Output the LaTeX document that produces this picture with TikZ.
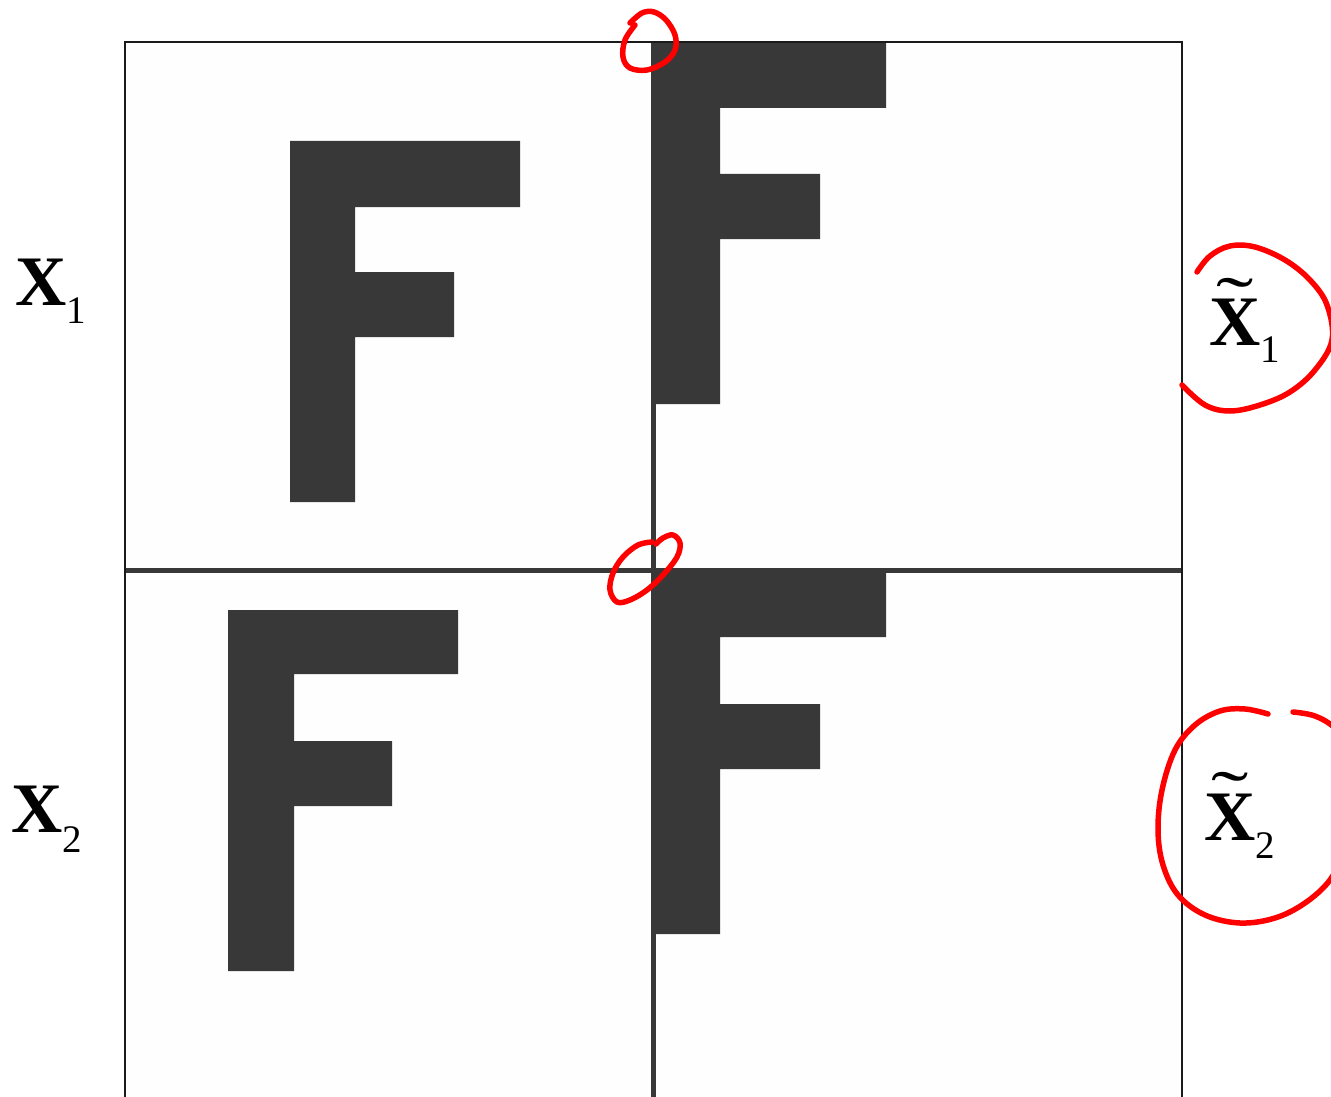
\documentclass[tikz,border=0pt]{standalone}
\usepackage{fontspec}
\usepackage{graphicx}
\setmainfont{Liberation Serif}
\definecolor{inkdark}{HTML}{383838}
\definecolor{framecol}{HTML}{1A1A1A}
\definecolor{penred}{HTML}{FF0000}
\newcommand\bigx{\fontsize{71}{71}\selectfont\bfseries X}
\newcommand\subnum[2]{\raisebox{-#1pt}{\fontsize{39}{39}\selectfont\mdseries #2}}
\newcommand\widetildechar{\scalebox{1.6}[1]{\fontsize{70}{70}\selectfont\mdseries\char"02DC}}
\newcommand\tildex[1]{{\fontsize{71}{71}\selectfont\bfseries\rlap{\hbox to \fontcharwd\font`X{\hss\raisebox{#1pt}{\widetildechar}\hss}}X}}
\tikzset{
  framelines/.style={draw=framecol, line width=2pt},
  divider/.style={draw=inkdark, line width=5pt},
  glyph/.style={fill=inkdark, draw=none},
  redpen/.style={draw=penred, line width=5.5pt, line cap=round, line join=round},
  lab/.style={anchor=base west, inner sep=0pt, outer sep=0pt, text=black}
}
\begin{document}
\begin{tikzpicture}[x=1pt, y=-1pt]
\useasboundingbox (0,0) rectangle (1331,1097);
\clip (0,0) rectangle (1331,1097);
\fill[white] (0,0) rectangle (1331,1097);
\fill[gray!1] (125,42) rectangle (1182,1097);
% dividers
\draw[divider] (125,570.5) -- (1182,570.5);
\draw[divider] (653.5,42) -- (653.5,1097);
% letters F
\path[glyph] (290,141) -- (520,141) -- (520,207) -- (355,207) -- (355,272) -- (454,272) -- (454,337) -- (355,337) -- (355,502) -- (290,502) -- cycle;
\path[glyph] (228,610) -- (458,610) -- (458,674) -- (294,674) -- (294,741) -- (392,741) -- (392,806) -- (294,806) -- (294,971) -- (228,971) -- cycle;
\path[glyph] (652,42) -- (886,42) -- (886,108) -- (720,108) -- (720,174) -- (820,174) -- (820,239) -- (720,239) -- (720,404) -- (652,404) -- cycle;
\path[glyph] (652,570) -- (886,570) -- (886,637) -- (720,637) -- (720,704) -- (820,704) -- (820,769) -- (720,769) -- (720,934) -- (652,934) -- cycle;
% frame
\draw[framelines] (125,1100) -- (125,42) -- (1182,42) -- (1182,1100);
% labels
\node[lab] (x1) at (15,305) {\bigx\subnum{18}{1}};
\node[lab] (x2) at (11,832) {\bigx\subnum{20}{2}};
\node[lab] (xt1) at (1209,345) {\tildex{20}\subnum{17}{1}};
\node[lab] (xt2) at (1204,840) {\tildex{21}\subnum{18}{2}};
% red pen marks
\draw[redpen] plot[smooth, tension=0.6] coordinates {(630,23) (642,13) (654,12) (666,20) (675,35) (675,50) (665,62) (647,70) (630,68) (623,57) (625,40) (635,25)};
\draw[redpen] plot[smooth, tension=0.6] coordinates {(652,542) (638,545) (623,557) (613,573) (610,590) (617,602) (630,600) (647,590) (663,575) (677,557) (680,543) (673,535) (663,538) (656,544)};
\draw[redpen] plot[smooth, tension=0.6] coordinates {(1197,272) (1210,256) (1230,246) (1255,247) (1285,260) (1310,280) (1327,305) (1332,340) (1315,370) (1290,392) (1260,405) (1230,411) (1205,405) (1182,385)};
\draw[redpen] plot[smooth, tension=0.6] coordinates {(1268,714) (1245,709) (1220,711) (1195,725) (1175,750) (1162,790) (1158,830) (1163,865) (1178,895) (1205,915) (1240,923) (1275,918) (1305,903) (1330,880) (1345,850)};
\draw[redpen] plot[smooth, tension=0.6] coordinates {(1293,712) (1315,716) (1335,728) (1350,748)};
\end{tikzpicture}
\end{document}
